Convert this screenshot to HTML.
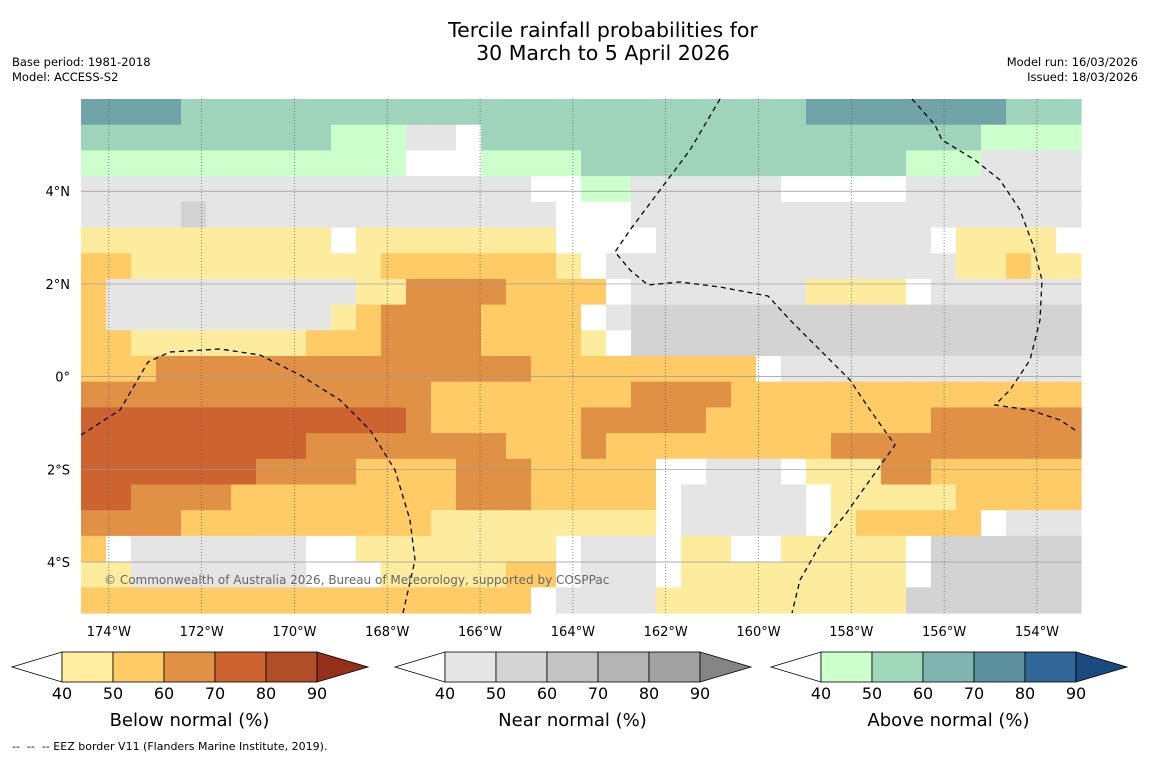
<!DOCTYPE html>
<html><head><meta charset="utf-8">
<style>
html,body{margin:0;padding:0;background:#fff;}
body{width:1150px;height:758px;position:relative;overflow:hidden;font-family:"DejaVu Sans","Liberation Sans",sans-serif;color:#000;}
.t{position:absolute;white-space:nowrap;}
</style></head>
<body>
<div class="t" style="left:0;width:1206px;top:19px;text-align:center;font-size:20.5px;line-height:23px;">Tercile rainfall probabilities for<br>30 March to 5 April 2026</div>
<div class="t" style="left:12px;top:55px;font-size:11.5px;line-height:15px;">Base period: 1981-2018<br>Model: ACCESS-S2</div>
<div class="t" style="right:12px;top:55px;font-size:11.5px;line-height:15px;text-align:right;">Model run: 16/03/2026<br>Issued: 18/03/2026</div>
<svg id="chart" width="1150" height="758" style="position:absolute;left:0;top:0"></svg>
<div class="t" style="left:12px;top:740px;font-size:11px;">--&nbsp; --&nbsp; -- EEZ border V11 (Flanders Marine Institute, 2019).</div>
<script>
// Grid of category codes (40 columns x 20 rows), 5.99N..5.1S, 174.6W..153.05W
const gridRows = [
"ccccbbbbbbbbbbbbbbbbbbbbbbbbbccccccccbbb",
"bbbbbbbbbbaaaggWbbbbbbbbbbbbbbbbbbbbaaaa",
"aaaaaaaaaaaaaWWWaaaabbbbbbbbbbbbbaaagggg",
"ggggggggggggggggggWWaaggggggWWWWWggggggg",
"gggghggggggggggggggWWWgggggggggggggggggg",
"yyyyyyyyyyWyyyyyyyyWWWWgggggggggggWyyyyW",
"ooyyyyyyyyyyoooooooyWggggggggggggggyyoyy",
"oggggggggggyyddddooooWgggggggyyyyWgggggg",
"ogggggggggyoddddooooWghhhhhhhhhhhhhhhhhh",
"ooyyyyyyyoooddddooooyWhhhhhhhhhhhhhhhhhh",
"ooodddddddddddddddoooooooooWgggggggggggg",
"ddddddddddddddooooooooddddoooooooooooooo",
"rrrrrrrrrrrrrdoooooodddddooooooooodddddd",
"rrrrrrrrrddddddddooodooooooooodddddddddd",
"rrrrrrrddddoooodddoooooWWgggWyyyddoooooo",
"rrddddooooooooodddoooooWgggggWyyyyyooooo",
"ddddooooooooooyyyyyyyyyWgggggWyoooooWggg",
"oWgggggggWWyyyyyyyyWgggWyyWWyyyyyWhhhhhh",
"yygggggggWWWyyyyyooWgggWyyyyyyyyyWhhhhhh",
"ooooooooooooooooooWggggyyyyyyyyyyhhhhhhh"
];
const catCodes = ["W","y","o","d","r","g","h","a","b","c"];
const catColors = ["#ffffff","#feec9e","#fecb66","#e09146","#cc6331","#e5e5e5","#d3d3d3","#ccffcc","#a0d3bc","#70a4a8"];
const lonTicks = [-174,-172,-170,-168,-166,-164,-162,-160,-158,-156,-154];
const latTicks = [4,2,0,-2,-4];
const belowColors = ["#ffeea0","#fecb66","#e09146","#cc6331","#b04e2a","#94301a"];
const nearColors = ["#e6e6e6","#d4d4d4","#c4c4c4","#b4b4b4","#a2a2a2","#858585"];
const aboveColors = ["#ccffcc","#a0d8bc","#80b4b0","#5c909c","#336699","#1a4a80"];
const cbTicks = [40,50,60,70,80,90];

const NS="http://www.w3.org/2000/svg";
const svg=document.getElementById('chart');
const X0=81,X1=1081,Y0=99,Y1=613,LON0=-174.6,LON1=-153.05,LAT0=5.99,LAT1=-5.1;
const xs=lon=>X0+(lon-LON0)/(LON1-LON0)*(X1-X0);
const ys=lat=>Y0+(lat-LAT0)/(LAT1-LAT0)*(Y1-Y0);
function mk(tag,attrs,parent){const e=document.createElementNS(NS,tag);for(const k in attrs)e.setAttribute(k,attrs[k]);(parent||svg).appendChild(e);return e;}

const map=mk('g',{});


const nR=gridRows.length,nC=40,cw=(X1-X0)/nC,ch=(Y1-Y0)/nR;
for(let j=0;j<nR;j++){for(let i=0;i<nC;i++){
  const code=gridRows[j][i]||'W';
  const c=catColors[catCodes.indexOf(code)];
  const r=mk('rect',{x:X0+i*cw,y:Y0+j*ch,width:cw+0.6,height:ch+0.6,fill:c},map);
  
  
}}
lonTicks.forEach(l=>{
  const x=xs(l);
  const ln=mk('line',{x1:x,x2:x,y1:Y0,y2:Y1,stroke:'#555','stroke-width':0.7,'stroke-dasharray':'1,2'});
  
  
  const t=mk('text',{x:x,y:636,'text-anchor':'middle','font-size':13});
  t.textContent=Math.abs(l)+'°W';
  
  
});
latTicks.forEach(l=>{
  const y=ys(l);
  const ln=mk('line',{x1:X0,x2:X1,y1:y,y2:y,stroke:'#999','stroke-width':0.7});
  
  
  const t=mk('text',{x:70,y:y+5,'text-anchor':'end','font-size':13});
  t.textContent=l===0?'0°':Math.abs(l)+(l>0?'°N':'°S');
  
  
});
const eez=["M81,435 L120,410 L148,362 L170,352 L220,349 L260,355 L300,375 L340,400 L370,430 L395,470 L410,520 L415,560 L403,613",
"M720,99 L690,150 L660,190 L630,230 L615,252 L630,270 L648,285 L680,282 L720,287 L768,296 L790,320 L820,350 L850,380 L870,410 L895,445 L870,480 L845,515 L820,545 L800,580 L792,613",
"M912,99 L935,125 L942,140 L975,160 L1000,180 L1020,210 L1033,245 L1042,280 L1040,320 L1030,360 L1010,390 L995,405 L1030,410 L1060,420 L1078,432"];
eez.forEach(d=>{const p=mk('path',{d:d,fill:'none',stroke:'#000','stroke-width':1.3,'stroke-dasharray':'5,4'});
  
  });
const cp=mk('text',{x:104,y:584,'font-size':12,fill:'#666'});
cp.textContent='© Commonwealth of Australia 2026, Bureau of Meteorology, supported by COSPPac';



function colorbar(x0,colors,title,name){
  const g=mk('g',{});
  
  
  const w=51,top=652,bot=682,mid=667;
  const bx=x0+50;
  mk('polygon',{points:`${x0},${mid} ${bx},${top} ${bx},${bot}`,fill:'#fff',stroke:'#000','stroke-width':0.8},g);
  for(let i=0;i<5;i++){
    const r=mk('rect',{x:bx+i*w,y:top,width:w,height:bot-top,fill:colors[i],stroke:'#000','stroke-width':0.8},g);
    
    
  }
  const ex=bx+5*w;
  mk('polygon',{points:`${ex},${top} ${ex+51},${mid} ${ex},${bot}`,fill:colors[5],stroke:'#000','stroke-width':0.8},g);
  cbTicks.forEach((v,i)=>{const t=mk('text',{x:bx+i*w,y:699,'text-anchor':'middle','font-size':16},g);t.textContent=v;
    
    });
  const tt=mk('text',{x:bx+2.5*w,y:726,'text-anchor':'middle','font-size':18},g);tt.textContent=title;
  
  
}
colorbar(12,belowColors,'Below normal (%)','below-normal-colorbar');
colorbar(395,nearColors,'Near normal (%)','near-normal-colorbar');
colorbar(771,aboveColors,'Above normal (%)','above-normal-colorbar');
</script>
</body></html>
